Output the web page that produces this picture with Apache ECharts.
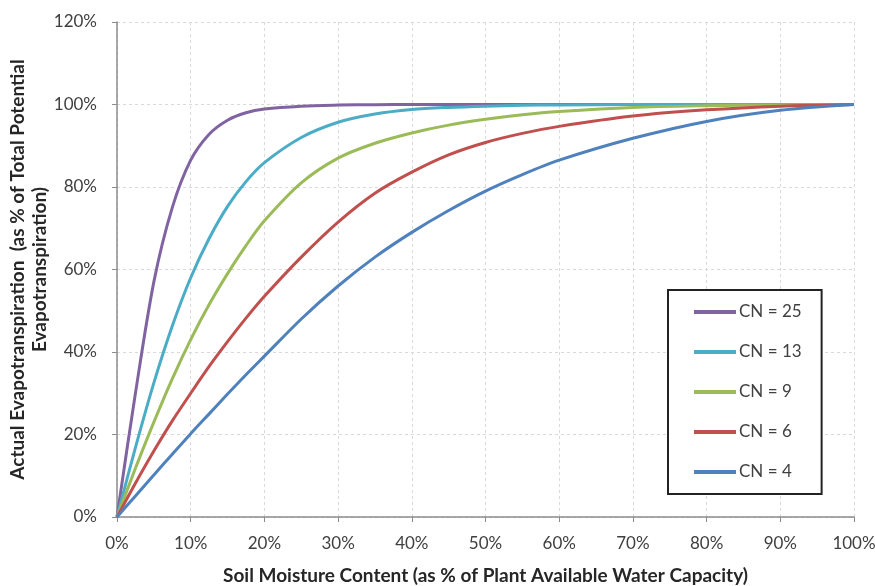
<!DOCTYPE html>
<html>
<head>
<meta charset="utf-8">
<script src="https://cdn.jsdelivr.net/npm/echarts@6/dist/echarts.min.js"></script>
<style>
  html, body { margin: 0; padding: 0; background: #fff; }
  #chart { width: 875px; height: 586px; }
</style>
</head>
<body>
<div id="chart"></div>
<script>
// soil moisture (% of plant available water capacity)
const moisture = [0, 2.5, 5, 7.5, 10, 12.5, 15, 17.5, 20, 25, 30, 35, 40, 45, 50, 55, 60, 70, 80, 90, 100];

// actual ET as % of potential
const cn25 = [0, 30, 57, 75, 86.5, 92.8, 96.2, 98, 98.9, 99.6, 99.85, 99.95, 100, 100, 100, 100, 100, 100, 100, 100, 100];
const cn13 = [0, 16.8, 32.5, 46.3, 58, 67.5, 75.3, 81.3, 85.9, 92, 95.7, 97.7, 98.8, 99.3, 99.6, 99.8, 99.9, 100, 100, 100, 100];
const cn9  = [0, 11.8, 23, 33.5, 43, 51.5, 59, 65.8, 71.8, 81, 87, 90.6, 93.1, 95, 96.4, 97.5, 98.3, 99.3, 99.7, 99.9, 100];
const cn6  = [0, 8.2, 16, 23.3, 30, 36.5, 42.5, 48.2, 53.5, 63, 71.5, 78.5, 83.6, 87.8, 90.8, 93, 94.7, 97.2, 98.7, 99.6, 100];
const cn4  = [0, 5.1, 10.2, 15.2, 20.2, 25, 29.8, 34.5, 39, 48, 56, 63, 69, 74.3, 79, 83, 86.5, 91.8, 95.9, 98.6, 100];

const seriesNames = ['CN = 25', 'CN = 13', 'CN = 9', 'CN = 6', 'CN = 4'];
const seriesData = [cn25, cn13, cn9, cn6, cn4];
const colors = ['#8064A2', '#4BACC6', '#9BBB59', '#C0504D', '#4F81BD'];

const font = 'Lato, "Liberation Sans", sans-serif';

const chart = echarts.init(document.getElementById('chart'));

const pair = arr => arr.map((v, i) => [moisture[i], v]);

chart.setOption({
  color: colors,
  animation: false,
  textStyle: { fontFamily: font },
  grid: { left: 117, right: 21, top: 22, bottom: 69, containLabel: false, outerBoundsMode: 'none' },
  legend: {
    orient: 'vertical',
    left: 668,
    top: 290,
    padding: [13, 20, 13, 26],
    itemGap: 22,
    itemWidth: 42,
    itemHeight: 4,
    icon: 'rect',
    borderColor: '#222',
    borderWidth: 2,
    backgroundColor: '#fff',
    textStyle: { color: '#404040', fontSize: 17, fontFamily: font, lineHeight: 18, padding: [0, 0, 0, -2] },
    data: seriesNames
  },
  xAxis: {
    type: 'value',
    min: 0,
    max: 100,
    interval: 10,
    name: 'Soil Moisture Content (as % of Plant Available Water Capacity)',
    nameLocation: 'middle',
    nameGap: 49,
    nameMoveOverlap: false,
    nameTextStyle: { color: '#262626', fontSize: 19, fontWeight: 'bold', fontFamily: font },
    axisLine: { lineStyle: { color: '#8c8c8c', width: 1.5 } },
    axisTick: { show: true, length: 5, lineStyle: { color: '#8c8c8c' } },
    axisLabel: { color: '#404040', fontSize: 17, margin: 18, formatter: '{value}%' },
    splitLine: { show: true, lineStyle: { color: '#d9d9d9', type: [3, 3] } }
  },
  yAxis: {
    type: 'value',
    min: 0,
    max: 120,
    interval: 20,
    name: 'Actual Evapotranspiration  (as % of Total Potential\nEvapotranspiration)',
    nameLocation: 'middle',
    nameGap: 66,
    nameRotate: 90,
    nameMoveOverlap: false,
    nameTextStyle: { color: '#262626', fontSize: 19, fontWeight: 'bold', fontFamily: font, lineHeight: 22, align: 'center' },
    axisLine: { show: true, lineStyle: { color: '#8c8c8c', width: 1.5 } },
    axisTick: { show: true, length: 5, lineStyle: { color: '#8c8c8c' } },
    axisLabel: { color: '#404040', fontSize: 17, margin: 20, formatter: '{value}%' },
    splitLine: { show: true, lineStyle: { color: '#d9d9d9', type: [3, 3] } }
  },
  series: seriesNames.map((name, i) => ({
    name: name,
    type: 'line',
    data: pair(seriesData[i]),
    smooth: 0.3,
    showSymbol: false,
    lineStyle: { width: 3, color: colors[i] }
  }))
});
</script>
</body>
</html>
